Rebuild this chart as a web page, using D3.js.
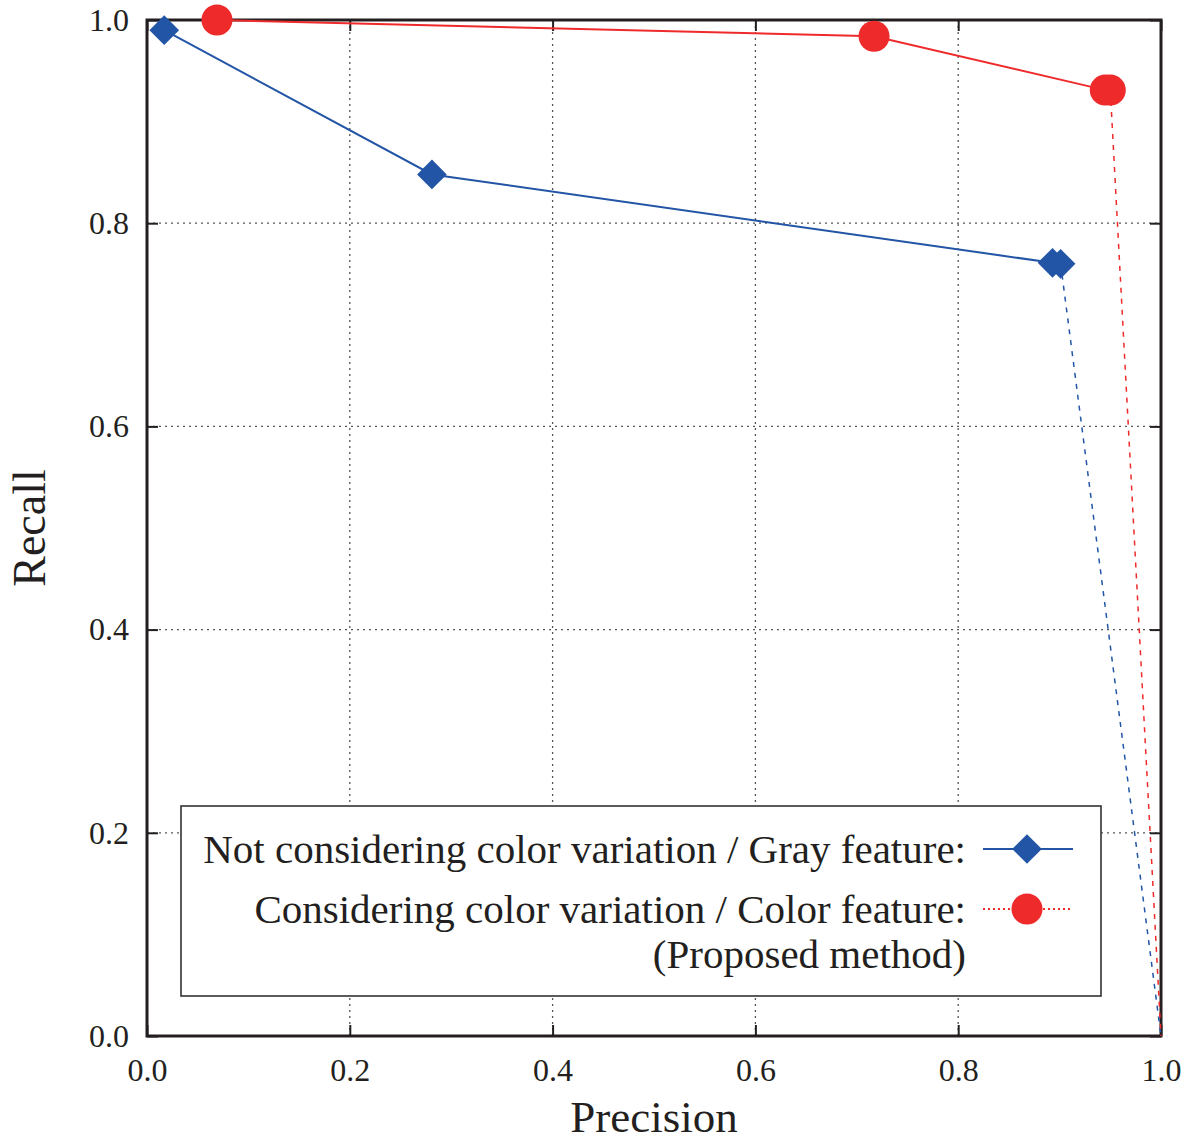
<!DOCTYPE html>
<html>
<head>
<meta charset="utf-8">
<script src="https://cdn.jsdelivr.net/npm/d3@7"></script>
<style>
  body { margin: 0; background: #fff; }
  text { font-family: "Liberation Serif", "DejaVu Serif", serif; fill: #231f20; }
</style>
</head>
<body>
<div id="wrapper"></div>
<script>
// data
const grayPrecision = [0.017, 0.281, 0.893, 0.901]
const grayRecall    = [0.990, 0.848, 0.761, 0.760]
const colorPrecision = [0.069, 0.717, 0.945, 0.950]
const colorRecall    = [1.000, 0.984, 0.931, 0.931]
// where each curve drops to at full precision
const endPoint = [1.0, 0.0]
const ticks = [0, 0.2, 0.4, 0.6, 0.8, 1.0]
const legendLabels = [
  "Not considering color variation / Gray feature:",
  "Considering color variation / Color feature:",
  "(Proposed method)"
]

function drawChart() {
  const blue = "#2255a5"
  const red = "#ee2a2b"

  let dimensions = {
    width: 1196,
    height: 1144,
    margin: { top: 20, right: 35, bottom: 108, left: 147 },
  }
  dimensions.boundedWidth = dimensions.width - dimensions.margin.left - dimensions.margin.right
  dimensions.boundedHeight = dimensions.height - dimensions.margin.top - dimensions.margin.bottom

  const wrapper = d3.select("#wrapper")
    .append("svg")
    .attr("width", dimensions.width)
    .attr("height", dimensions.height)

  const bounds = wrapper.append("g")
    .attr("transform", `translate(${dimensions.margin.left},${dimensions.margin.top})`)

  const xScale = d3.scaleLinear().domain([0, 1]).range([0, dimensions.boundedWidth])
  const yScale = d3.scaleLinear().domain([0, 1]).range([dimensions.boundedHeight, 0])

  // dotted grid
  const inner = ticks.filter(t => t > 0 && t < 1)
  bounds.append("g").selectAll("line.gx")
    .data(inner).enter().append("line")
      .attr("x1", d => xScale(d)).attr("x2", d => xScale(d))
      .attr("y1", 0).attr("y2", dimensions.boundedHeight)
      .attr("stroke", "#555").attr("stroke-width", 1.3)
      .attr("stroke-dasharray", "2,4")
  bounds.append("g").selectAll("line.gy")
    .data(inner).enter().append("line")
      .attr("y1", d => yScale(d)).attr("y2", d => yScale(d))
      .attr("x1", 0).attr("x2", dimensions.boundedWidth)
      .attr("stroke", "#555").attr("stroke-width", 1.3)
      .attr("stroke-dasharray", "2,4")

  // axes: inward ticks on all four sides
  const tickFmt = d3.format(".1f")
  const xAxis = bounds.append("g")
    .attr("transform", `translate(0,${dimensions.boundedHeight})`)
    .call(d3.axisBottom(xScale).tickValues(ticks).tickFormat(tickFmt).tickSizeInner(-11).tickSizeOuter(0).tickPadding(22))
  const yAxis = bounds.append("g")
    .call(d3.axisLeft(yScale).tickValues(ticks).tickFormat(tickFmt).tickSizeInner(-11).tickSizeOuter(0).tickPadding(18))
  const xTop = bounds.append("g")
    .call(d3.axisTop(xScale).tickValues(ticks).tickFormat("").tickSizeInner(-11).tickSizeOuter(0))
  const yRight = bounds.append("g")
    .attr("transform", `translate(${dimensions.boundedWidth},0)`)
    .call(d3.axisRight(yScale).tickValues(ticks).tickFormat("").tickSizeInner(-11).tickSizeOuter(0))

  ;[xAxis, yAxis, xTop, yRight].forEach(a => {
    a.attr("font-family", null).attr("font-size", null)
    a.select(".domain").remove()
    a.selectAll(".tick line").attr("stroke", "#231f20").attr("stroke-width", 2)
    a.selectAll(".tick text")
      .style("font-family", '"Liberation Serif", serif')
      .style("font-size", "32px")
      .attr("fill", "#231f20")
  })
  xAxis.selectAll(".tick text").attr("dy", "0.71em")

  // frame
  bounds.append("rect")
    .attr("width", dimensions.boundedWidth)
    .attr("height", dimensions.boundedHeight)
    .attr("fill", "none")
    .attr("stroke", "#231f20")
    .attr("stroke-width", 3)

  // series
  const line = d3.line().x(d => xScale(d[0])).y(d => yScale(d[1]))
  const grayPts = grayPrecision.map((p, i) => [p, grayRecall[i]])
  const colorPts = colorPrecision.map((p, i) => [p, colorRecall[i]])

  // dashed drops to (1, 0)
  bounds.append("path")
    .datum([grayPts[grayPts.length - 1], endPoint])
    .attr("d", line).attr("fill", "none")
    .attr("stroke", blue).attr("stroke-width", 1.5).attr("stroke-dasharray", "5,6")
  bounds.append("path")
    .datum([colorPts[colorPts.length - 1], endPoint])
    .attr("d", line).attr("fill", "none")
    .attr("stroke", red).attr("stroke-width", 1.5).attr("stroke-dasharray", "5,6")

  bounds.append("path")
    .datum(grayPts)
    .attr("d", line).attr("fill", "none")
    .attr("stroke", blue).attr("stroke-width", 2)
  bounds.append("path")
    .datum(colorPts)
    .attr("d", line).attr("fill", "none")
    .attr("stroke", red).attr("stroke-width", 2)

  const diamond = d3.symbol().type(d3.symbolDiamond2).size(560)
  bounds.selectAll("path.gray")
    .data(grayPts).enter().append("path")
      .attr("d", diamond)
      .attr("transform", d => `translate(${xScale(d[0])},${yScale(d[1])})`)
      .attr("fill", blue)
  bounds.selectAll("circle.color")
    .data(colorPts).enter().append("circle")
      .attr("cx", d => xScale(d[0]))
      .attr("cy", d => yScale(d[1]))
      .attr("r", 15.5)
      .attr("fill", red)

  // axis titles
  wrapper.append("text")
    .attr("x", dimensions.margin.left + dimensions.boundedWidth / 2)
    .attr("y", 1132)
    .attr("text-anchor", "middle")
    .style("font-size", "45px")
    .text("Precision")
  wrapper.append("text")
    .attr("transform", `translate(45,${dimensions.margin.top + dimensions.boundedHeight / 2}) rotate(-90)`)
    .attr("text-anchor", "middle")
    .style("font-size", "46px")
    .text("Recall")

  // legend
  const legend = wrapper.append("g")
  legend.append("rect")
    .attr("x", 181).attr("y", 806)
    .attr("width", 920).attr("height", 190)
    .attr("fill", "#fff")
    .attr("stroke", "#333").attr("stroke-width", 1.6)
  const rowY = [849, 909, 954]
  legend.selectAll("text.lab")
    .data(legendLabels).enter().append("text")
      .attr("x", 966)
      .attr("y", (d, i) => rowY[i])
      .attr("dy", "0.35em")
      .attr("text-anchor", "end")
      .style("font-size", "41px")
      .text(d => d)
  legend.append("line")
    .attr("x1", 983).attr("x2", 1073).attr("y1", rowY[0]).attr("y2", rowY[0])
    .attr("stroke", blue).attr("stroke-width", 2)
  legend.append("path")
    .attr("d", diamond)
    .attr("transform", `translate(1027,${rowY[0]})`)
    .attr("fill", blue)
  legend.append("line")
    .attr("x1", 983).attr("x2", 1071).attr("y1", rowY[1]).attr("y2", rowY[1])
    .attr("stroke", red).attr("stroke-width", 2).attr("stroke-dasharray", "2,3")
  legend.append("circle")
    .attr("cx", 1027).attr("cy", rowY[1]).attr("r", 15.5)
    .attr("fill", red)
}

drawChart()
</script>
</body>
</html>
